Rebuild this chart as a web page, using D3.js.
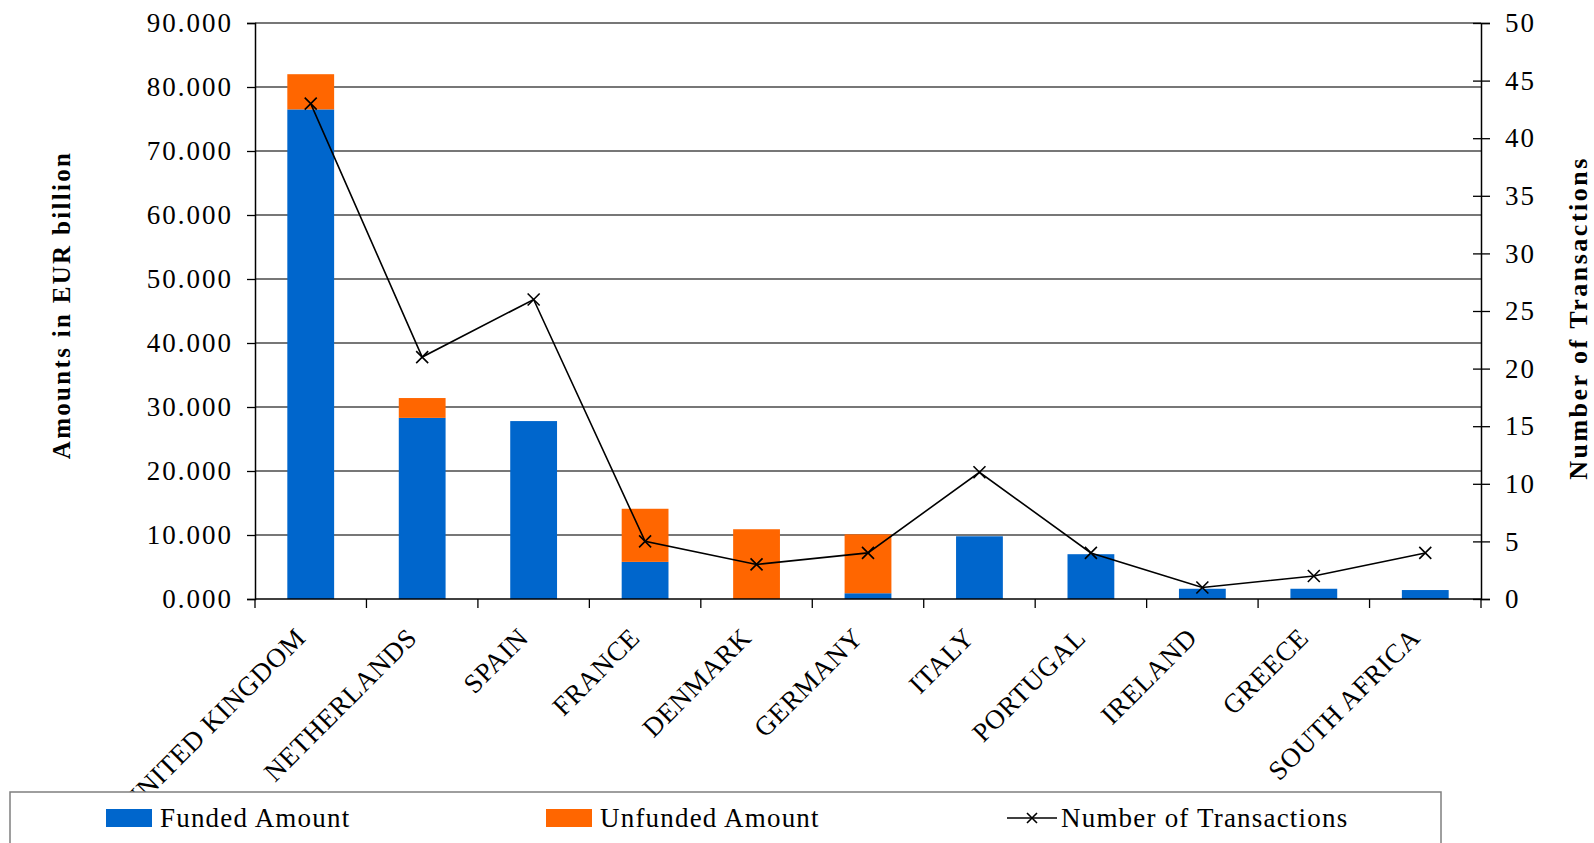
<!DOCTYPE html>
<html>
<head>
<meta charset="utf-8">
<script src="https://cdn.jsdelivr.net/npm/d3@7"></script>
<style>
  body { margin: 0; background: #fff; }
  svg { display: block; }
  svg text { font-family: "Liberation Serif", "Times New Roman", serif; fill: #000; }
</style>
</head>
<body>
<svg id="chart"></svg>
<script>
// Data
const countries = ["UNITED KINGDOM", "NETHERLANDS", "SPAIN", "FRANCE", "DENMARK", "GERMANY",
                   "ITALY", "PORTUGAL", "IRELAND", "GREECE", "SOUTH AFRICA"];
const funded = [76.5, 28.3, 27.8, 5.8, 0, 0.9, 9.8, 7.0, 1.6, 1.6, 1.4];
const unfunded = [5.5, 3.1, 0, 8.3, 10.9, 9.2, 0, 0, 0, 0, 0];
const transactions = [43, 21, 26, 5, 3, 4, 11, 4, 1, 2, 4];
const leftTicks = [0, 10, 20, 30, 40, 50, 60, 70, 80, 90];
const rightTicks = [0, 5, 10, 15, 20, 25, 30, 35, 40, 45, 50];

const width = 1594, height = 843;
const plot = { left: 255, right: 1481, top: 23, bottom: 599 };
const blue = "#0066CC", orange = "#FF6600";

const svg = d3.select("#chart").attr("width", width).attr("height", height);

const x = d3.scaleBand()
    .domain(countries)
    .range([plot.left, plot.right])
    .paddingInner(0.58)
    .paddingOuter(0.29);
const xStep = d3.scaleBand().domain(countries).range([plot.left, plot.right]);

const yLeft = d3.scaleLinear().domain([0, 90]).range([plot.bottom, plot.top]);
const yRight = d3.scaleLinear().domain([0, 50]).range([plot.bottom, plot.top]);

// gridlines
svg.append("g")
    .selectAll("line")
    .data(leftTicks.slice(1))
    .join("line")
    .attr("x1", plot.left).attr("x2", plot.right)
    .attr("y1", d => yLeft(d)).attr("y2", d => yLeft(d))
    .attr("stroke", "#4a4a4a")
    .attr("stroke-width", 1.3);

// stacked bars
const rows = countries.map((c, i) => ({ country: c, funded: funded[i], unfunded: unfunded[i] }));
const stack = d3.stack().keys(["funded", "unfunded"])(rows);
const colors = { funded: blue, unfunded: orange };

svg.append("g")
    .selectAll("g")
    .data(stack)
    .join("g")
    .attr("fill", d => colors[d.key])
    .selectAll("rect")
    .data(d => d)
    .join("rect")
    .attr("x", d => x(d.data.country))
    .attr("width", x.bandwidth())
    .attr("y", d => yLeft(d[1]))
    .attr("height", d => yLeft(d[0]) - yLeft(d[1]));

// left axis
const leftAxis = svg.append("g")
    .attr("transform", `translate(${plot.left},0)`)
    .call(d3.axisLeft(yLeft).tickValues(leftTicks).tickSize(8).tickPadding(14)
        .tickFormat(d => d + ".000"));
leftAxis.attr("font-family", null).attr("font-size", null);
leftAxis.select(".domain").attr("stroke", "#000").attr("stroke-width", 1.5);
leftAxis.selectAll(".tick line").attr("stroke", "#000").attr("stroke-width", 1.3);
leftAxis.selectAll("text")
    .attr("font-size", 27).attr("letter-spacing", 2);

// right axis (ticks crossing the axis)
const rightAxis = svg.append("g")
    .attr("transform", `translate(${plot.right},0)`)
    .call(d3.axisRight(yRight).tickValues(rightTicks).tickSize(9).tickPadding(15));
rightAxis.attr("font-family", null).attr("font-size", null);
rightAxis.select(".domain").attr("stroke", "#000").attr("stroke-width", 1.5);
rightAxis.selectAll(".tick line").attr("x1", -8).attr("stroke", "#000").attr("stroke-width", 1.3);
rightAxis.selectAll("text")
    .attr("font-size", 27).attr("letter-spacing", 2);

// bottom axis: ticks on category boundaries
const boundaries = countries.map(c => xStep(c)).concat([plot.right]);
const xAxis = svg.append("g");
xAxis.append("line")
    .attr("x1", plot.left).attr("x2", plot.right + 1)
    .attr("y1", plot.bottom).attr("y2", plot.bottom)
    .attr("stroke", "#000").attr("stroke-width", 1.5);
xAxis.selectAll("line.tick")
    .data(boundaries)
    .join("line")
    .attr("class", "tick")
    .attr("x1", d => d).attr("x2", d => d)
    .attr("y1", plot.bottom).attr("y2", plot.bottom + 9)
    .attr("stroke", "#000").attr("stroke-width", 1.3);

xAxis.selectAll("text")
    .data(countries)
    .join("text")
    .attr("transform", d => `translate(${xStep(d) + xStep.bandwidth() / 2 - 17},${plot.bottom + 27}) rotate(-45)`)
    .attr("text-anchor", "end")
    .attr("dy", "0.7em")
    .attr("font-size", 27)
    .attr("letter-spacing", 0.6)
    .text(d => d);

// number of transactions line
const cx = d => xStep(d) + xStep.bandwidth() / 2;
const line = d3.line()
    .x((d, i) => cx(countries[i]))
    .y(d => yRight(d));

svg.append("path")
    .datum(transactions)
    .attr("fill", "none")
    .attr("stroke", "#000")
    .attr("stroke-width", 1.6)
    .attr("d", line);

const m = 6;
svg.append("g")
    .selectAll("path")
    .data(transactions)
    .join("path")
    .attr("d", (d, i) => {
        const px = cx(countries[i]), py = yRight(d);
        return `M${px - m},${py - m}L${px + m},${py + m}M${px - m},${py + m}L${px + m},${py - m}`;
    })
    .attr("stroke", "#000")
    .attr("stroke-width", 1.6);

// axis titles
svg.append("text")
    .attr("transform", `translate(70,305) rotate(-90)`)
    .attr("text-anchor", "middle")
    .attr("font-size", 25)
    .attr("font-weight", "bold")
    .attr("letter-spacing", 2.3)
    .text("Amounts in EUR billion");

svg.append("text")
    .attr("transform", `translate(1587,${(plot.top + plot.bottom) / 2 + 7}) rotate(-90)`)
    .attr("text-anchor", "middle")
    .attr("font-size", 26)
    .attr("font-weight", "bold")
    .attr("letter-spacing", 2.5)
    .text("Number of Transactions");

// legend
const legend = svg.append("g");
legend.append("rect")
    .attr("x", 10).attr("y", 792)
    .attr("width", 1431).attr("height", 70)
    .attr("fill", "#fff")
    .attr("stroke", "#7f7f7f")
    .attr("stroke-width", 1.5);

const legendItems = [
    { label: "Funded Amount", type: "rect", color: blue, x: 106 },
    { label: "Unfunded Amount", type: "rect", color: orange, x: 546 },
    { label: "Number of Transactions", type: "line", color: "#000", x: 1007 }
];
const ly = 818;
legendItems.forEach(item => {
    if (item.type === "rect") {
        legend.append("rect")
            .attr("x", item.x).attr("y", ly - 9)
            .attr("width", 46).attr("height", 18)
            .attr("fill", item.color);
    } else {
        legend.append("line")
            .attr("x1", item.x).attr("x2", item.x + 50)
            .attr("y1", ly).attr("y2", ly)
            .attr("stroke", "#000").attr("stroke-width", 1.6);
        const mx = item.x + 25;
        legend.append("path")
            .attr("d", `M${mx - 5},${ly - 5}L${mx + 5},${ly + 5}M${mx - 5},${ly + 5}L${mx + 5},${ly - 5}`)
            .attr("stroke", "#000").attr("stroke-width", 1.6);
    }
    legend.append("text")
        .attr("x", item.x + 54)
        .attr("y", ly)
        .attr("dy", "0.35em")
        .attr("font-size", 27)
        .attr("letter-spacing", 1.2)
        .text(item.label);
});
</script>
</body>
</html>
